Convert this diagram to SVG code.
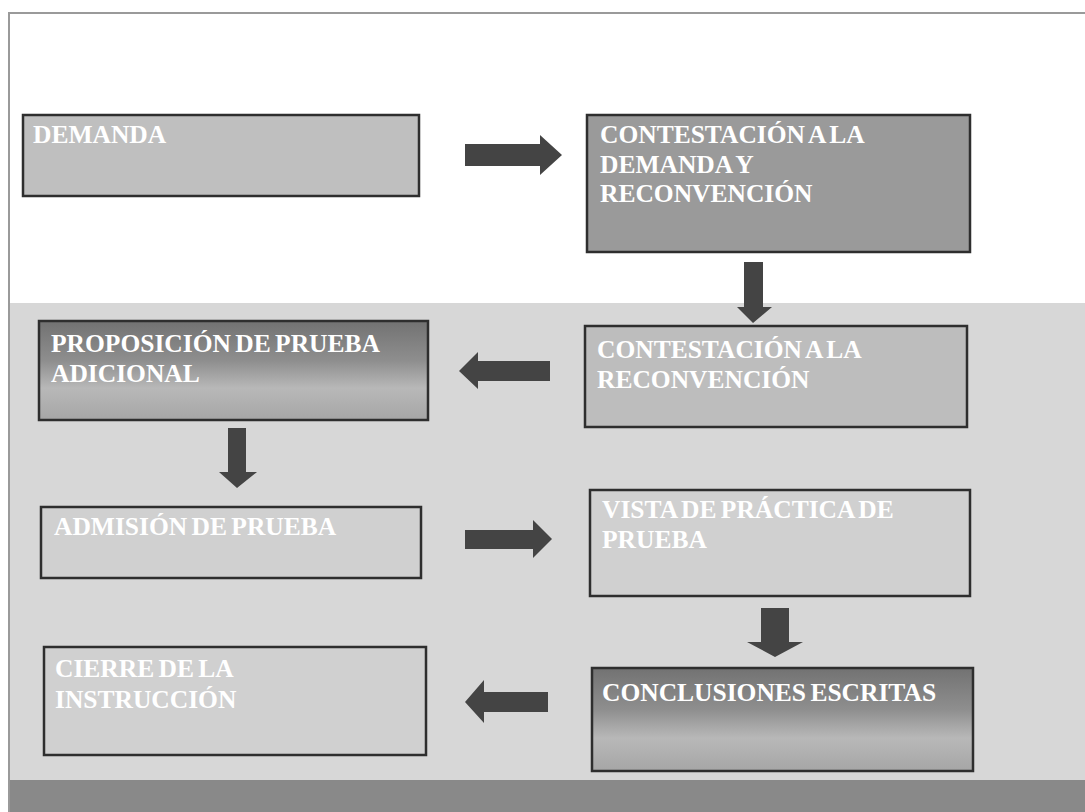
<svg xmlns="http://www.w3.org/2000/svg" width="1085" height="812" viewBox="0 0 1085 812">
  <defs>
    <style>
      .box { stroke: #2e2e2e; stroke-width: 2.5; }
      .lbl { font-family: "Liberation Serif", "Times New Roman", serif; font-weight: bold; font-size: 25.5px; fill: #ffffff; word-spacing: -2px; }
      .arrow { fill: #444444; }
    </style>
    <linearGradient id="shade" x1="0" y1="0" x2="0" y2="1">
      <stop offset="0" stop-color="#727272"/>
      <stop offset="0.4" stop-color="#8e8e8e"/>
      <stop offset="0.68" stop-color="#b8b8b8"/>
      <stop offset="1" stop-color="#a6a6a6"/>
    </linearGradient>
  </defs>

  <!-- slide background -->
  <rect x="0" y="0" width="1085" height="812" fill="#ffffff"/>
  <rect x="9" y="303" width="1076" height="477" fill="#d7d7d7"/>
  <rect x="9" y="780" width="1076" height="32" fill="#898989"/>
  <path d="M9 812 V13 H1085" fill="none" stroke="#9a9a9a" stroke-width="2"/>

  <!-- connectors -->
  <g id="connectors">
    <polygon class="arrow" points="465,144 540,144 540,135 562,155 540,175 540,166 465,166"/>
    <polygon class="arrow" points="744,262 763,262 763,307 772,307 753,323 737,307 744,307"/>
    <polygon class="arrow" points="550,361 478,361 478,352 459,371 478,389 478,381 550,381"/>
    <polygon class="arrow" points="228,428 246,428 246,472 257,472 237,488 219,472 228,472"/>
    <polygon class="arrow" points="465,530 533,530 533,520 552,539 533,558 533,549 465,549"/>
    <polygon class="arrow" points="761,608 789,608 789,642 803,642 775,657 747,642 761,642"/>
    <polygon class="arrow" points="548,692 484,692 484,680 465,702 484,723 484,712 548,712"/>
  </g>

  <g id="demanda">
    <rect class="box" x="23" y="115" width="396" height="81" fill="#bfbfbf"/>
    <text class="lbl" x="33" y="143">DEMANDA</text>
  </g>

  <g id="contestacion-demanda">
    <rect class="box" x="587" y="115" width="383" height="137" fill="#9a9a9a"/>
    <text class="lbl" x="600" y="143">CONTESTACIÓN A LA</text>
    <text class="lbl" x="600" y="173">DEMANDA Y</text>
    <text class="lbl" x="600" y="202">RECONVENCIÓN</text>
  </g>

  <g id="contestacion-reconvencion">
    <rect class="box" x="585" y="326" width="382" height="101" fill="#bdbdbd"/>
    <text class="lbl" x="597" y="358">CONTESTACIÓN A LA</text>
    <text class="lbl" x="597" y="388">RECONVENCIÓN</text>
  </g>

  <g id="proposicion-prueba">
    <rect class="box" x="39" y="321" width="389" height="99" fill="url(#shade)"/>
    <text class="lbl" x="51" y="352">PROPOSICIÓN DE PRUEBA</text>
    <text class="lbl" x="51" y="382">ADICIONAL</text>
  </g>

  <g id="admision-prueba">
    <rect class="box" x="41" y="507" width="380" height="71" fill="#d0d0d0"/>
    <text class="lbl" x="54" y="535">ADMISIÓN DE PRUEBA</text>
  </g>

  <g id="vista-practica">
    <rect class="box" x="590" y="490" width="380" height="106" fill="#d0d0d0"/>
    <text class="lbl" x="602" y="518">VISTA DE PRÁCTICA DE</text>
    <text class="lbl" x="602" y="548">PRUEBA</text>
  </g>

  <g id="cierre-instruccion">
    <rect class="box" x="44" y="647" width="382" height="108" fill="#d0d0d0"/>
    <text class="lbl" x="55" y="677">CIERRE DE LA</text>
    <text class="lbl" x="55" y="708">INSTRUCCIÓN</text>
  </g>

  <g id="conclusiones-escritas">
    <rect class="box" x="592" y="668" width="381" height="103" fill="url(#shade)"/>
    <text class="lbl" x="602" y="701">CONCLUSIONES ESCRITAS</text>
  </g>
</svg>
